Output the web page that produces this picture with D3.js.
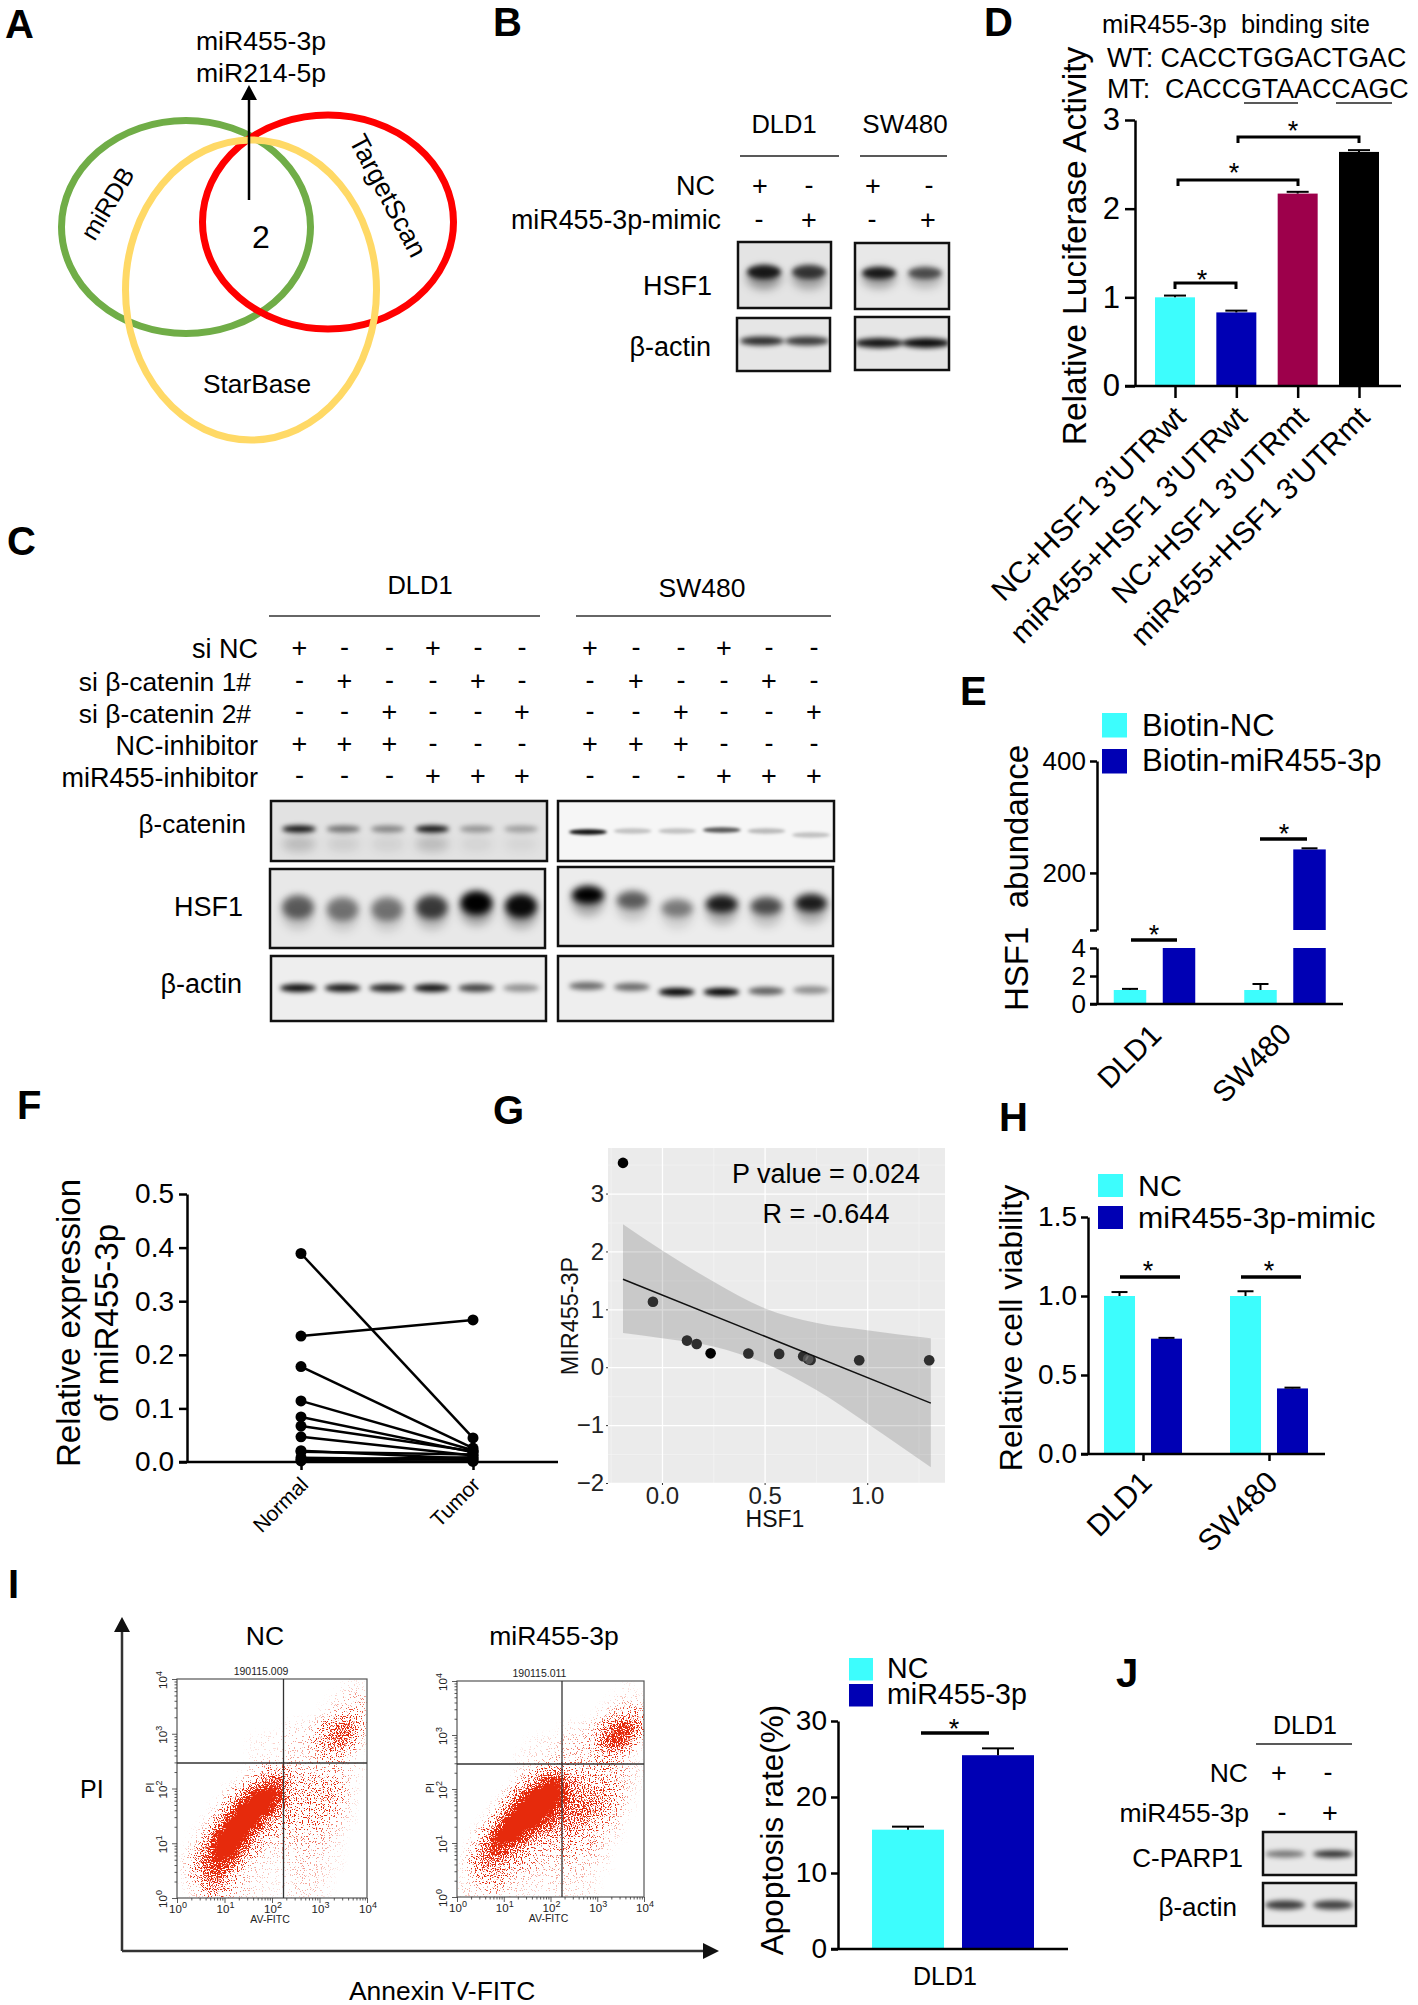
<!DOCTYPE html>
<html>
<head>
<meta charset="utf-8">
<script src="https://cdn.jsdelivr.net/npm/d3@7"></script>
<style>
    body { margin: 0; background: #fff; }
    svg { display: block; font-family: "Liberation Sans", Arial, sans-serif; }
</style>
</head>
<body>
<div id="figure"></div>
<script>
// panel D
const lucCategories = ["NC+HSF1 3'UTRwt", "miR455+HSF1 3'UTRwt", "NC+HSF1 3'UTRmt", "miR455+HSF1 3'UTRmt"];
const lucValues = [1.0, 0.83, 2.17, 2.64];
const lucErrors = [1.02, 0.85, 2.19, 2.66];
const lucTicks = [0, 1, 2, 3];

// panel E
const cellLines = ["DLD1", "SW480"];
const biotinSeries = ["Biotin-NC", "Biotin-miR455-3p"];
const biotinNc = [1, 1];
const biotinMir = [4, 242];
const biotinNcErr = [1.08, 1.43];
const biotinMirErr = [4, 244];

// panel F, paired samples
const fNormal = [0.389, 0.235, 0.178, 0.114, 0.084, 0.067, 0.047, 0.021, 0.019, 0.008, 0.004, 0.002];
const fTumor = [0.045, 0.265, 0.026, 0.022, 0.018, 0.02, 0.012, 0.006, 0.014, 0.004, 0.009, 0.001];
const fTicks = [0, 0.1, 0.2, 0.3, 0.4, 0.5];

// panel G
const gHsf1 = [-0.19, -0.044, 0.122, 0.169, 0.237, 0.421, 0.571, 0.688, 0.712, 0.724, 0.961, 1.302];
const gMir = [3.53, 1.13, 0.46, 0.40, 0.24, 0.236, 0.23, 0.19, 0.14, 0.126, 0.12, 0.12];
const gFitX = [-0.19, 1.31];
const gFitY = [1.52, -0.62];
const gBandX = [-0.19, 0, 0.25, 0.5, 0.75, 1.0, 1.31];
const gBandHi = [2.47, 2.02, 1.48, 1.02, 0.77, 0.64, 0.5];
const gBandLo = [0.59, 0.5, 0.36, 0.07, -0.39, -0.97, -1.73];

// panel H
const viabilitySeries = ["NC", "miR455-3p-mimic"];
const viabilityNc = [1, 1];
const viabilityMir = [0.73, 0.415];
const viabilityNcErr = [1.025, 1.03];
const viabilityMirErr = [0.735, 0.42];

// panel I, bars
const apoptosisSeries = ["NC", "miR455-3p"];
const apoptosisValues = [15.7, 25.5];
const apoptosisErrors = [16.1, 26.4];

// panel I, flow plots: share of the plot area covered with dots, by quarter decade, top row first
const flowNc = [
    [0,0,0,0,0,0,0,0,0,0,0,0,0,0,3,2],
    [0,0,0,0,0,0,0,0,0,0,0,0,0,4,8,10],
    [0,0,0,0,0,0,0,0,0,0,0,0,3,10,12,12],
    [0,0,0,0,0,0,0,0,0,3,3,6,20,45,40,15],
    [0,0,0,0,0,0,2,3,3,6,6,12,30,45,35,6],
    [0,0,0,0,0,0,2,2,2,5,5,8,15,15,6,0],
    [0,0,0,0,0,0,5,12,10,12,8,10,10,10,6,2],
    [0,0,0,0,0,6,15,40,60,20,14,16,20,14,6,0],
    [0,0,0,0,12,35,90,100,75,20,18,20,22,18,5,0],
    [0,0,0,6,40,100,100,90,40,20,15,16,16,12,3,0],
    [0,0,3,30,95,100,90,35,20,14,15,16,10,8,2,0],
    [0,2,15,85,100,90,35,15,10,10,10,10,8,4,0,0],
    [0,10,45,95,100,50,15,6,5,7,8,8,5,2,0,0],
    [3,20,50,75,50,12,5,4,3,5,7,6,4,2,0,0],
    [2,15,40,50,20,8,4,4,2,4,6,5,3,0,0,0],
    [0,5,20,25,10,7,4,2,2,4,5,5,2,0,0,0]
];
const flowMir = [
    [0,0,0,0,0,0,0,0,0,0,0,0,0,0,2,0],
    [0,0,0,0,0,0,0,0,0,0,0,0,0,3,6,5],
    [0,0,0,0,0,0,0,0,0,0,0,0,6,12,20,18],
    [0,0,0,0,0,0,0,0,0,3,3,8,20,55,70,35],
    [0,0,0,0,0,0,2,3,4,7,8,12,45,75,45,5],
    [0,0,0,0,0,2,3,3,6,8,8,8,20,15,5,0],
    [0,0,0,0,0,3,8,15,25,15,12,12,14,12,8,3],
    [0,0,0,0,0,10,30,70,85,40,25,20,20,15,7,2],
    [0,0,0,0,15,55,100,100,90,50,35,35,30,18,5,0],
    [0,0,0,8,50,100,100,100,60,45,40,40,25,12,3,0],
    [0,0,5,40,100,100,100,55,40,35,30,25,12,8,0,0],
    [0,4,30,90,100,75,35,25,20,20,18,15,8,3,0,0],
    [0,12,50,70,45,25,15,10,12,15,12,10,5,0,0,0],
    [3,20,40,35,20,15,12,8,8,10,8,5,3,0,0,0],
    [2,10,22,20,10,6,5,5,5,6,5,3,0,0,0,0],
    [5,5,10,10,5,4,3,3,4,4,4,3,0,0,0,0]
];

// blot band strength per lane, 0..1
const bHsf1Dld1 = [0.85, 0.7];
const bHsf1Sw480 = [0.85, 0.6];
const bActinDld1 = [0.8, 0.75];
const bActinSw480 = [0.9, 0.95];
const cCateninDld1 = [0.95, 0.5, 0.42, 0.95, 0.35, 0.3];
const cCateninSw480 = [0.95, 0.22, 0.22, 0.65, 0.25, 0.22];
const cHsf1Dld1 = [0.55, 0.45, 0.45, 0.7, 1, 0.95];
const cHsf1Sw480 = [1, 0.55, 0.42, 0.85, 0.62, 0.85];
const cActinDld1 = [0.95, 0.9, 0.85, 0.92, 0.72, 0.38];
const cActinSw480 = [0.55, 0.55, 1, 1, 0.6, 0.4];
const jParp = [0.5, 0.82];
const jActin = [0.75, 0.72];

// +/- treatment tables
const bRows = { "NC": "+-+-", "miR455-3p-mimic": "-+-+" };
const cRowLabels = ["si NC", "si \u03b2-catenin 1#", "si \u03b2-catenin 2#", "NC-inhibitor", "miR455-inhibitor"];
const cRowSigns = ["+--+--", "-+--+-", "--+--+", "+++---", "---+++"];
const jRows = { "NC": "+-", "miR455-3p": "-+" };

const CYAN = "#3dfdfd", NAVY = "#0000b4", WINE = "#9d004b";

const svg = d3.select("#figure").append("svg")
    .attr("width", 1418)
    .attr("height", 2005);

const defs = svg.append("defs");

// blur levels for the blot bands
[1.5, 2.5, 3.5, 5].forEach(s => {
    defs.append("filter")
        .attr("id", "blur" + String(s).replace(".", "_"))
        .attr("x", "-40%").attr("y", "-80%").attr("width", "180%").attr("height", "260%")
        .append("feGaussianBlur")
        .attr("stdDeviation", s);
});

// turns a soft density layer into small speckled dots
function speckleFilter(id, seed, box) {
    const f = defs.append("filter")
        .attr("id", id)
        .attr("filterUnits", "userSpaceOnUse")
        .attr("x", box[0]).attr("y", box[1])
        .attr("width", box[2] - box[0]).attr("height", box[3] - box[1])
        .attr("color-interpolation-filters", "sRGB");
    f.append("feGaussianBlur").attr("in", "SourceGraphic").attr("stdDeviation", 4).attr("result", "soft");
    f.append("feTurbulence").attr("type", "fractalNoise").attr("baseFrequency", 0.85)
        .attr("numOctaves", 1).attr("seed", seed).attr("result", "noise");
    f.append("feColorMatrix").attr("in", "noise").attr("type", "matrix")
        .attr("values", "0 0 0 0 0  0 0 0 0 0  0 0 0 0 0  0 0 0 3.4 -1.2").attr("result", "grain");
    f.append("feComposite").attr("in", "soft").attr("in2", "grain").attr("operator", "arithmetic")
        .attr("k1", 0).attr("k2", 1.4).attr("k3", 1).attr("k4", -1).attr("result", "sum");
    const t = f.append("feComponentTransfer").attr("in", "sum").attr("result", "dots");
    t.append("feFuncA").attr("type", "linear").attr("slope", 5).attr("intercept", 0);
    f.append("feFlood").attr("flood-color", "#e62a0c").attr("result", "red");
    f.append("feComposite").attr("in", "red").attr("in2", "dots").attr("operator", "in");
}

function label(x, y, str, size, opts = {}) {
    const t = (opts.parent || svg).append("text")
        .attr("font-size", size)
        .attr("fill", opts.fill || "#000")
        .attr("text-anchor", opts.anchor || "start")
        .text(str);
    if (opts.weight) t.attr("font-weight", opts.weight);
    if (opts.rotate !== undefined) {
        t.attr("transform", "translate(" + x + "," + y + ") rotate(" + opts.rotate + ")");
    } else {
        t.attr("x", x).attr("y", y);
    }
    return t;
}

function rule(x1, y1, x2, y2, width = 2.5, color = "#000") {
    return svg.append("line")
        .attr("x1", x1).attr("y1", y1).attr("x2", x2).attr("y2", y2)
        .attr("stroke", color).attr("stroke-width", width);
}

function star(x, y) {
    label(x, y + 16, "*", 27, { anchor: "middle" });
}

function styleAxis(g, size, width = 2.5) {
    g.selectAll("line").attr("stroke", "#000").attr("stroke-width", width);
    g.selectAll("path").attr("stroke", "#000").attr("stroke-width", width);
    g.selectAll("text").attr("font-size", size).attr("font-family", null).attr("fill", "#000");
    g.attr("font-family", null);
    return g;
}

function legend(entries, x, textX, rows, size, swatch) {
    entries.forEach((d, i) => {
        svg.append("rect")
            .attr("x", x).attr("y", rows[i][0])
            .attr("width", swatch[0]).attr("height", swatch[1])
            .attr("fill", i === 0 ? CYAN : NAVY);
        label(textX, rows[i][1], d, size);
    });
}

function drawBars(x, width, values, y, color) {
    svg.append("g").selectAll("rect")
        .data(values)
        .enter()
        .append("rect")
        .attr("x", (d, i) => x(i) - width / 2)
        .attr("y", d => y(d))
        .attr("width", width)
        .attr("height", d => y.range()[0] - y(d))
        .attr("fill", color);
}

function drawErrors(x, capWidth, values, errors, y, lineWidth = 2) {
    const g = svg.append("g").attr("stroke", "#000").attr("stroke-width", lineWidth);
    errors.forEach((e, i) => {
        g.append("line").attr("x1", x(i)).attr("x2", x(i)).attr("y1", y(values[i])).attr("y2", y(e));
        g.append("line").attr("x1", x(i) - capWidth / 2).attr("x2", x(i) + capWidth / 2).attr("y1", y(e)).attr("y2", y(e));
    });
}

//one western blot panel, bands placed with a point scale over the lanes
function blot(box, values, o) {
    const id = "clip" + box.join("_");
    defs.append("clipPath").attr("id", id).append("rect")
        .attr("x", box[0]).attr("y", box[1]).attr("width", box[2] - box[0]).attr("height", box[3] - box[1]);

    const g = svg.append("g");
    g.append("rect")
        .attr("x", box[0]).attr("y", box[1]).attr("width", box[2] - box[0]).attr("height", box[3] - box[1])
        .attr("fill", o.bg || "#ececec");

    const lane = d3.scalePoint().domain(d3.range(values.length)).range(o.lanes);
    const dark = d3.scaleLinear().domain([0, 1]).range([0, 1]);
    const inner = g.append("g").attr("clip-path", "url(#" + id + ")");

    if (o.smearRy) {
        inner.append("g").attr("filter", "url(#blur5)").selectAll("ellipse")
            .data(values).enter().append("ellipse")
            .attr("cx", (d, i) => lane(i))
            .attr("cy", (d, i) => o.y + o.smearDy + (o.offsets ? o.offsets[i] : 0))
            .attr("rx", o.rx)
            .attr("ry", o.smearRy)
            .attr("fill-opacity", d => dark(d) * o.smear);
    }
    inner.append("g").attr("filter", "url(#blur" + String(o.blur).replace(".", "_") + ")").selectAll("ellipse")
        .data(values).enter().append("ellipse")
        .attr("cx", (d, i) => lane(i))
        .attr("cy", (d, i) => o.y + (o.offsets ? o.offsets[i] : 0))
        .attr("rx", o.rx)
        .attr("ry", o.ry)
        .attr("fill-opacity", d => dark(d));

    g.append("rect")
        .attr("x", box[0]).attr("y", box[1]).attr("width", box[2] - box[0]).attr("height", box[3] - box[1])
        .attr("fill", "none").attr("stroke", "#111").attr("stroke-width", 2.5);
}

function signs(row, xs, y, size = 27) {
    row.split("").forEach((s, i) => {
        label(xs[i] , y + (s === "+" ? 9 : 8), s, size, { anchor: "middle" });
    });
}

// panel letters
[["A", 5, 38], ["B", 493, 36], ["C", 7, 555], ["D", 984, 36], ["E", 960, 705], ["F", 17, 1119],
 ["G", 493, 1124], ["H", 999, 1131], ["I", 8, 1598], ["J", 1116, 1687]].forEach(d => {
    label(d[1], d[2], d[0], 40, { weight: "bold" });
});

// ---- A venn
[["#70ad47", 186, 227, 124.5, 106.5], ["#ff0000", 328, 222, 125.5, 107], ["#ffd966", 251, 290, 125.5, 150]].forEach(d => {
    svg.append("ellipse")
        .attr("cx", d[1]).attr("cy", d[2]).attr("rx", d[3]).attr("ry", d[4])
        .attr("fill", "none").attr("stroke", d[0]).attr("stroke-width", 7);
});
rule(249, 200, 249, 97, 2.5);
svg.append("path").attr("d", "M249,85L257,100L241,100Z").attr("fill", "#000");
label(261, 50, "miR455-3p", 26.6, { anchor: "middle" });
label(261, 82, "miR214-5p", 26.6, { anchor: "middle" });
label(261, 248, "2", 32, { anchor: "middle" });
label(257, 393, "StarBase", 26.3, { anchor: "middle" });
label(115, 208, "miRDB", 25, { anchor: "middle", rotate: -59 });
label(380, 200, "TargetScan", 26.6, { anchor: "middle", rotate: 62 });

// ---- B blots
label(784, 133, "DLD1", 25.5, { anchor: "middle" });
label(905, 133, "SW480", 26, { anchor: "middle" });
rule(740, 156, 839, 156, 1.5, "#222");
rule(860, 156, 947, 156, 1.5, "#222");
label(715, 195, "NC", 27, { anchor: "end" });
label(721, 229, "miR455-3p-mimic", 26.8, { anchor: "end" });
signs(bRows["NC"], [760, 809, 873, 929], 186);
signs(bRows["miR455-3p-mimic"], [759, 809, 872, 928], 220);
label(712, 295, "HSF1", 27, { anchor: "end" });
label(711, 356, "\u03b2-actin", 27, { anchor: "end" });
blot([738, 242, 831, 308], bHsf1Dld1, { lanes: [764, 809], y: 272, rx: 17, ry: 7, blur: 2.5, smear: 0.45, smearRy: 11, smearDy: 6, bg: "#e4e4e4" });
blot([855, 243, 949, 309], bHsf1Sw480, { lanes: [879, 925], y: 273, rx: 17, ry: 6, blur: 2.5, smear: 0.4, smearRy: 10, smearDy: 5, bg: "#e8e8e8" });
blot([737, 318, 830, 371], bActinDld1, { lanes: [762, 807], y: 341, rx: 22, ry: 4.5, blur: 2.5, bg: "#e6e6e6" });
blot([855, 317, 949, 370], bActinSw480, { lanes: [879, 926], y: 343, rx: 24, ry: 5, blur: 2.5, bg: "#e6e6e6" });

// ---- C blots
label(420, 594, "DLD1", 25.5, { anchor: "middle" });
label(702, 597, "SW480", 26.5, { anchor: "middle" });
rule(269, 616, 540, 616, 1.5, "#333");
rule(576, 616, 831, 616, 1.5, "#333");
const cColumns = [299.5, 344.5, 389.5, 433, 478, 522, 590, 636, 681, 724, 769, 814];
const cRowY = [648, 681, 712, 744, 776];
const cRowBase = [658, 691, 723, 755, 787];
const cRowRight = [258, 251, 251, 258, 258];
const cRowSize = [27, 26.4, 26.4, 27, 27];
cRowLabels.forEach((d, i) => {
    label(cRowRight[i], cRowBase[i], d, cRowSize[i], { anchor: "end" });
    signs(cRowSigns[i] + cRowSigns[i], cColumns, cRowY[i]);
});
label(246, 833, "\u03b2-catenin", 26, { anchor: "end" });
label(243, 916, "HSF1", 27, { anchor: "end" });
label(242, 993, "\u03b2-actin", 27, { anchor: "end" });
blot([271, 801, 547, 861], cCateninDld1, { lanes: [299, 521], y: 829, rx: 17, ry: 3.5, blur: 2.5, smear: 0.18, smearRy: 8, smearDy: 15, bg: "#e2e2e2" });
blot([558, 801, 834, 861], cCateninSw480, { lanes: [588, 811], y: 832, rx: 19, ry: 2.8, blur: 1.5, bg: "#f6f6f6", offsets: [0, -1, -1, -2, -1, 3] });
blot([270, 869, 545, 948], cHsf1Dld1, { lanes: [298, 521], y: 907, rx: 16, ry: 12, blur: 3.5, smear: 0.3, smearRy: 15, smearDy: 8, bg: "#e8e8e8", offsets: [0, 2, 2, 0, -4, -1] });
blot([558, 867, 833, 946], cHsf1Sw480, { lanes: [588, 811], y: 903, rx: 16, ry: 9, blur: 3.5, smear: 0.3, smearRy: 14, smearDy: 7, bg: "#ececec", offsets: [-8, -3, 5, 1, 3, 0] });
blot([271, 956, 546, 1021], cActinDld1, { lanes: [298, 521], y: 988, rx: 18, ry: 4, blur: 2.5, bg: "#eeeeee" });
blot([558, 956, 833, 1021], cActinSw480, { lanes: [587, 811], y: 990, rx: 18, ry: 4, blur: 2.5, bg: "#eeeeee", offsets: [-4, -3, 2, 2, 1, 0] });

// ---- D luciferase
label(1102, 33, "miR455-3p\u00a0\u00a0binding site", 25.5);
label(1107, 66.5, "WT: CACCTGGACTGAC", 26.8);
label(1107, 98, "MT:\u00a0\u00a0CACCGTAACCAGC", 26.8);
rule(1244, 103, 1298, 103, 1.5, "#222");
rule(1336, 103, 1392, 103, 1.5, "#222");
{
    const y = d3.scaleLinear().domain([0, 3]).range([386, 120]);
    const x = d3.scalePoint().domain(lucCategories).range([1175, 1359]);
    const xi = i => x(lucCategories[i]);
    const colors = [CYAN, NAVY, WINE, "#000"];
    svg.append("g").selectAll("rect").data(lucValues).enter().append("rect")
        .attr("x", (d, i) => xi(i) - 20).attr("y", d => y(d))
        .attr("width", 40).attr("height", d => y(0) - y(d))
        .attr("fill", (d, i) => colors[i]);
    drawErrors(xi, 22, lucValues, lucErrors, y, 2);

    svg.append("g").attr("transform", "translate(1135,0)")
        .call(d3.axisLeft(y).tickValues(lucTicks).tickFormat(d3.format("d")).tickSize(10).tickPadding(5).tickSizeOuter(0))
        .call(g => styleAxis(g, 31));
    const xg = svg.append("g").attr("transform", "translate(0,386)")
        .call(d3.axisBottom(x).tickSize(12).tickSizeOuter(0));
    xg.select(".domain").remove();
    styleAxis(xg, 30);
    xg.selectAll("text").attr("text-anchor", "end").attr("y", 0).attr("dy", 0)
        .attr("transform", "translate(12,33) rotate(-45)");
    rule(1125, 386, 1401, 386, 2.5);
    label(1086, 246, "Relative Luciferase Activity", 33.5, { anchor: "middle", rotate: -90 });

    [[1175, 1236, 283], [1178, 1298, 180], [1238, 1359, 137]].forEach(b => {
        svg.append("path")
            .attr("d", "M" + b[0] + "," + (b[2] + 6) + "V" + b[2] + "H" + b[1] + "V" + (b[2] + 6))
            .attr("fill", "none").attr("stroke", "#000").attr("stroke-width", 3);
    });
    star(1202, 273);
    star(1234, 166);
    star(1293, 124);
}

// ---- E pull down with broken axis
legend(biotinSeries, 1102, 1142, [[713, 736], [749, 771]], 31, [25, 24.5]);
{
    const upper = d3.scaleLinear().domain([98, 400]).range([930, 761]);
    const lower = d3.scaleLinear().domain([0, 4]).range([1004, 948]);
    const group = d3.scalePoint().domain(cellLines).range([1154.5, 1285]);
    const inner = d3.scaleBand().domain(biotinSeries).range([-40.75, 40.75]).paddingInner(0.337);
    const x0 = i => group(cellLines[i]) + inner(biotinSeries[0]) + inner.bandwidth() / 2;
    const x1 = i => group(cellLines[i]) + inner(biotinSeries[1]) + inner.bandwidth() / 2;
    const w = inner.bandwidth();

    drawBars(x0, w, biotinNc, lower, CYAN);
    drawBars(x1, w, biotinMir.map(d => Math.min(d, 4)), lower, NAVY);
    svg.append("g").selectAll("rect").data(biotinMir.filter(d => d > 98)).enter().append("rect")
        .attr("x", x1(1) - w / 2).attr("y", d => upper(d))
        .attr("width", w).attr("height", d => upper(98) - upper(d))
        .attr("fill", NAVY);
    drawErrors(x0, 16, biotinNc, biotinNcErr, lower, 2);
    rule(x1(1) - 8, upper(biotinMirErr[1]), x1(1) + 8, upper(biotinMirErr[1]), 2);

    svg.append("g").attr("transform", "translate(1097,0)")
        .call(d3.axisLeft(upper).tickValues([98, 200, 400]).tickFormat(d => d === 98 ? "" : d).tickSize(7).tickPadding(4).tickSizeOuter(0))
        .call(g => styleAxis(g, 26));
    svg.append("g").attr("transform", "translate(1097,0)")
        .call(d3.axisLeft(lower).tickValues([0, 2, 4]).tickFormat(d3.format("d")).tickSize(7).tickPadding(4).tickSizeOuter(0))
        .call(g => styleAxis(g, 26));
    rule(1090, 1004, 1343, 1004, 2.5);
    label(1028, 878, "HSF1\u00a0\u00a0abundance", 33, { anchor: "middle", rotate: -90 });

    rule(1131, 940, 1177, 940, 3.5);
    rule(1260, 839, 1307, 839, 3.5);
    star(1154, 928);
    star(1284, 827);
    label(1163, 1037, "DLD1", 29.5, { anchor: "end", rotate: -45 });
    label(1293, 1036, "SW480", 29.5, { anchor: "end", rotate: -45 });
}

// ---- F paired lines
{
    const y = d3.scaleLinear().domain([0, 0.5]).range([1462, 1194]);
    const x = d3.scalePoint().domain(["Normal", "Tumor"]).range([301, 473]);
    const line = d3.line().x(d => x(d[0])).y(d => y(d[1]));
    const pairs = fNormal.map((d, i) => [["Normal", d], ["Tumor", fTumor[i]]]);

    const xg = svg.append("g").attr("transform", "translate(0,1462)")
        .call(d3.axisBottom(x).tickSize(8).tickSizeOuter(0));
    xg.select(".domain").remove();
    styleAxis(xg, 21);
    xg.selectAll("text").attr("text-anchor", "end").attr("y", 0).attr("dy", 0)
        .attr("transform", "translate(8,24) rotate(-45)");
    rule(179, 1462, 558, 1462, 2.5);

    svg.append("g").selectAll("path").data(pairs).enter().append("path")
        .attr("d", line).attr("fill", "none").attr("stroke", "#000").attr("stroke-width", 2.5);
    svg.append("g").selectAll("circle").data(pairs.flat()).enter().append("circle")
        .attr("cx", d => x(d[0])).attr("cy", d => y(d[1])).attr("r", 5.5).attr("fill", "#000");

    svg.append("g").attr("transform", "translate(187,0)")
        .call(d3.axisLeft(y).tickValues(fTicks).tickFormat(d3.format(".1f")).tickSize(8).tickPadding(5).tickSizeOuter(0))
        .call(g => styleAxis(g, 28));
    label(80, 1323, "Relative expression", 33, { anchor: "middle", rotate: -90 });
    label(118, 1323, "of miR455-3p", 33, { anchor: "middle", rotate: -90 });
}

// ---- G regression, ggplot look
{
    const x = d3.scaleLinear().domain([-0.263, 1.379]).range([608, 945]);
    const y = d3.scaleLinear().domain([-2, 3.787]).range([1483, 1148]);
    const h = 1483 - 1148, w = 945 - 608;

    svg.append("rect").attr("x", 608).attr("y", 1148).attr("width", w).attr("height", h).attr("fill", "#ebebeb");

    //grids
    const grid = (axis, at, color, sw) => svg.append("g").attr("transform", at).call(axis)
        .call(g => {
            g.select(".domain").remove();
            g.selectAll("text").remove();
            g.selectAll("line").attr("stroke", color).attr("stroke-width", sw);
        });
    grid(d3.axisBottom(x).tickValues([-0.25, 0.25, 0.75, 1.25]).tickSize(-h), "translate(0,1483)", "#f3f3f3", 0.7);
    grid(d3.axisLeft(y).tickValues([-1.5, -0.5, 0.5, 1.5, 2.5, 3.5]).tickSize(-w), "translate(608,0)", "#f3f3f3", 0.7);
    grid(d3.axisBottom(x).tickValues([0, 0.5, 1]).tickSize(-h), "translate(0,1483)", "#fff", 1.3);
    grid(d3.axisLeft(y).tickValues([-2, -1, 0, 1, 2, 3]).tickSize(-w), "translate(608,0)", "#fff", 1.3);

    svg.append("g").selectAll("circle").data(gHsf1).enter().append("circle")
        .attr("cx", d => x(d)).attr("cy", (d, i) => y(gMir[i])).attr("r", 5.3).attr("fill", "#000");

    const ribbon = d3.area().x((d, i) => x(gBandX[i])).y0((d, i) => y(gBandLo[i])).y1((d, i) => y(gBandHi[i]))
        .curve(d3.curveMonotoneX);
    svg.append("path").datum(gBandX).attr("d", ribbon).attr("fill", "#000").attr("fill-opacity", 0.14);
    // points under the ribbon read grey in the source, so a second wash sits on them
    svg.append("g").selectAll("circle").data(gHsf1).enter().append("circle")
        .filter((d, i) => i !== 0 && i !== 4)
        .attr("cx", d => x(d)).attr("cy", d => y(gMir[gHsf1.indexOf(d)])).attr("r", 5.3).attr("fill", "#fff").attr("fill-opacity", 0.18);

    svg.append("line")
        .attr("x1", x(gFitX[0])).attr("y1", y(gFitY[0]))
        .attr("x2", x(gFitX[1])).attr("y2", y(gFitY[1]))
        .attr("stroke", "#111").attr("stroke-width", 1.5);

    const yg = svg.append("g").attr("transform", "translate(608,0)")
        .call(d3.axisLeft(y).tickValues([-2, -1, 0, 1, 2, 3]).tickFormat(d3.format("d")).tickSize(2).tickPadding(2).tickSizeOuter(0));
    yg.select(".domain").remove();
    styleAxis(yg, 24, 0.8);
    yg.selectAll("text").attr("fill", "#222");
    const xg = svg.append("g").attr("transform", "translate(0,1483)")
        .call(d3.axisBottom(x).tickValues([0, 0.5, 1]).tickFormat(d3.format(".1f")).tickSize(2).tickPadding(2).tickSizeOuter(0));
    xg.select(".domain").remove();
    styleAxis(xg, 24, 0.8);
    xg.selectAll("text").attr("fill", "#222");

    label(775, 1527, "HSF1", 23, { anchor: "middle", fill: "#111" });
    label(578, 1316, "MIR455-3P", 23.4, { anchor: "middle", rotate: -90, fill: "#111" });
    label(826, 1183, "P value = 0.024", 27, { anchor: "middle" });
    label(826, 1223, "R = -0.644", 27, { anchor: "middle" });
}

// ---- H viability
legend(viabilitySeries, 1098, 1138, [[1174, 1196], [1206, 1228]], 30.3, [25, 23]);
{
    const y = d3.scaleLinear().domain([0, 1.5]).range([1454, 1217]);
    const group = d3.scalePoint().domain(cellLines).range([1143, 1269]);
    const inner = d3.scaleBand().domain(viabilitySeries).range([-39, 39]).paddingInner(0.34);
    const w = inner.bandwidth();
    const x0 = i => group(cellLines[i]) + inner(viabilitySeries[0]) + w / 2;
    const x1 = i => group(cellLines[i]) + inner(viabilitySeries[1]) + w / 2;

    drawBars(x0, w, viabilityNc, y, CYAN);
    drawBars(x1, w, viabilityMir, y, NAVY);
    drawErrors(x0, 16, viabilityNc, viabilityNcErr, y, 2);
    drawErrors(x1, 16, viabilityMir, viabilityMirErr, y, 2);

    svg.append("g").attr("transform", "translate(1088,0)")
        .call(d3.axisLeft(y).tickValues([0, 0.5, 1, 1.5]).tickFormat(d3.format(".1f")).tickSize(7).tickPadding(4).tickSizeOuter(0))
        .call(g => styleAxis(g, 28));
    const xg = svg.append("g").attr("transform", "translate(0,1454)")
        .call(d3.axisBottom(group).tickSize(7).tickSizeOuter(0));
    xg.select(".domain").remove();
    styleAxis(xg, 30);
    xg.selectAll("text").attr("text-anchor", "end").attr("y", 0).attr("dy", 0)
        .attr("transform", "translate(10,30) rotate(-45)");
    rule(1081, 1454, 1325, 1454, 2.5);

    label(1022, 1328, "Relative cell viability", 32, { anchor: "middle", rotate: -90 });
    rule(1120, 1277, 1180, 1277, 3.5);
    rule(1241, 1277, 1301, 1277, 3.5);
    star(1148, 1264);
    star(1269, 1264);
}

// ---- I flow plots
function flowPlot(box, grid, o) {
    const x = d3.scaleLog().domain([1, 1e4]).range([box[0], box[2]]);
    const y = d3.scaleLog().domain([1, 1e4]).range([box[3], box[1]]);
    const col = d3.scaleBand().domain(d3.range(16)).range([box[0], box[2]]);
    const row = d3.scaleBand().domain(d3.range(16)).range([box[1], box[3]]);
    const cover = d3.scaleLinear().domain([0, 100]).range([0, 1]);

    speckleFilter(o.id, o.seed, box);
    svg.append("g").attr("filter", "url(#" + o.id + ")").selectAll("g")
        .data(grid).enter().append("g")
        .each(function (cells, r) {
            d3.select(this).selectAll("rect").data(cells).enter().append("rect")
                .attr("x", (d, c) => col(c))
                .attr("y", row(r))
                .attr("width", col.bandwidth() + 0.5)
                .attr("height", row.bandwidth() + 0.5)
                .attr("fill", "#000")
                .attr("fill-opacity", d => cover(d));
        });

    svg.append("rect").attr("x", box[0]).attr("y", box[1])
        .attr("width", box[2] - box[0]).attr("height", box[3] - box[1])
        .attr("fill", "none").attr("stroke", "#555").attr("stroke-width", 1.2);
    rule(o.gate[0], box[1], o.gate[0], box[3], 1.3, "#333");
    rule(box[0], o.gate[1], box[2], o.gate[1], 1.3, "#333");

    const minor = d3.range(0, 4).flatMap(e => d3.range(2, 10).map(m => m * Math.pow(10, e)));
    const major = [1, 10, 100, 1000, 10000];
    const thin = g => {
        g.select(".domain").remove();
        g.selectAll("line").attr("stroke", "#333").attr("stroke-width", 0.8);
    };
    svg.append("g").attr("transform", "translate(0," + box[3] + ")")
        .call(d3.axisBottom(x).tickValues(minor).tickFormat("").tickSize(2.5)).call(thin);
    svg.append("g").attr("transform", "translate(" + box[0] + ",0)")
        .call(d3.axisLeft(y).tickValues(minor).tickFormat("").tickSize(2.5)).call(thin);

    svg.append("g").attr("transform", "translate(0," + box[3] + ")")
        .call(d3.axisBottom(x).tickValues(major).tickFormat("").tickSize(5)).call(thin);
    svg.append("g").attr("transform", "translate(" + box[0] + ",0)")
        .call(d3.axisLeft(y).tickValues(major).tickFormat("").tickSize(5)).call(thin);

    major.forEach((m, i) => {
        const lx = label(x(m) + 1, box[3] + 15, "10", 11.5, { anchor: "middle", fill: "#222" });
        lx.append("tspan").attr("dy", -5).attr("font-size", 9).text(i);
        const ly = label(box[0] - 10, y(m) + 1, "10", 11.5, { anchor: "middle", rotate: -90, fill: "#222" });
        ly.append("tspan").attr("dy", -5).attr("font-size", 9).text(i);
    });

    label((box[0] + box[2]) / 2 - 11, box[1] - 4, o.title, 10.5, { anchor: "middle", fill: "#222" });
    label((box[0] + box[2]) / 2 - 2, box[3] + 25, "AV-FITC", 10.5, { anchor: "middle", fill: "#222" });
    label(box[0] - 23, (box[1] + box[3]) / 2 - 1, "PI", 10.5, { anchor: "middle", rotate: -90, fill: "#222" });
}

flowPlot([177, 1679, 367, 1898], flowNc, { id: "speckleNc", seed: 4, gate: [283.5, 1763], title: "190115.009" });
flowPlot([457, 1681, 644, 1897], flowMir, { id: "speckleMir", seed: 9, gate: [562, 1764], title: "190115.011" });

rule(122, 1951, 122, 1630, 2.5, "#333");
rule(122, 1951, 705, 1951, 2.5, "#333");
svg.append("path").attr("d", "M122,1617L130,1632L114,1632Z").attr("fill", "#111");
svg.append("path").attr("d", "M719,1951L703,1943L703,1959Z").attr("fill", "#111");
label(265, 1645, "NC", 26.5, { anchor: "middle" });
label(554, 1645, "miR455-3p", 26.5, { anchor: "middle" });
label(80, 1798, "PI", 25);
label(349, 2000, "Annexin V-FITC", 26.4);

// ---- I apoptosis bars
legend(apoptosisSeries, 849, 887, [[1658, 1678], [1684, 1704]], 28.6, [24, 22.5]);
{
    const y = d3.scaleLinear().domain([0, 30]).range([1949, 1721]);
    const x = d3.scaleBand().domain(apoptosisSeries).range([872, 1034]).paddingInner(0.2);
    const xi = i => x(apoptosisSeries[i]) + x.bandwidth() / 2;

    svg.append("g").selectAll("rect").data(apoptosisValues).enter().append("rect")
        .attr("x", (d, i) => x(apoptosisSeries[i])).attr("y", d => y(d))
        .attr("width", x.bandwidth()).attr("height", d => y(0) - y(d))
        .attr("fill", (d, i) => i === 0 ? CYAN : NAVY);
    drawErrors(xi, 32, apoptosisValues, apoptosisErrors, y, 2);

    svg.append("g").attr("transform", "translate(838,0)")
        .call(d3.axisLeft(y).tickValues([0, 10, 20, 30]).tickFormat(d3.format("d")).tickSize(7).tickPadding(4).tickSizeOuter(0))
        .call(g => styleAxis(g, 28));
    rule(831, 1949, 1068, 1949, 2.5);
    label(783, 1830, "Apoptosis rate(%)", 31.5, { anchor: "middle", rotate: -90 });
    label(945, 1985, "DLD1", 25, { anchor: "middle" });
    rule(921, 1733, 989, 1733, 3.5);
    star(954, 1722);
}

// ---- J blots
label(1305, 1734, "DLD1", 25, { anchor: "middle" });
rule(1256, 1744, 1352, 1744, 1.5, "#222");
label(1248, 1782, "NC", 26.5, { anchor: "end" });
label(1249, 1822, "miR455-3p", 26.5, { anchor: "end" });
signs(jRows["NC"], [1279, 1328], 1773);
signs(jRows["miR455-3p"], [1282, 1330], 1813);
label(1243, 1867, "C-PARP1", 26, { anchor: "end" });
label(1237, 1916, "\u03b2-actin", 26, { anchor: "end" });
blot([1263, 1832, 1356, 1875], jParp, { lanes: [1285, 1333], y: 1854, rx: 20, ry: 3.5, blur: 2.5, bg: "#e8e8e8" });
blot([1263, 1883, 1356, 1926], jActin, { lanes: [1285, 1333], y: 1905, rx: 20, ry: 4.5, blur: 2.5, bg: "#e8e8e8" });
</script>
</body>
</html>
